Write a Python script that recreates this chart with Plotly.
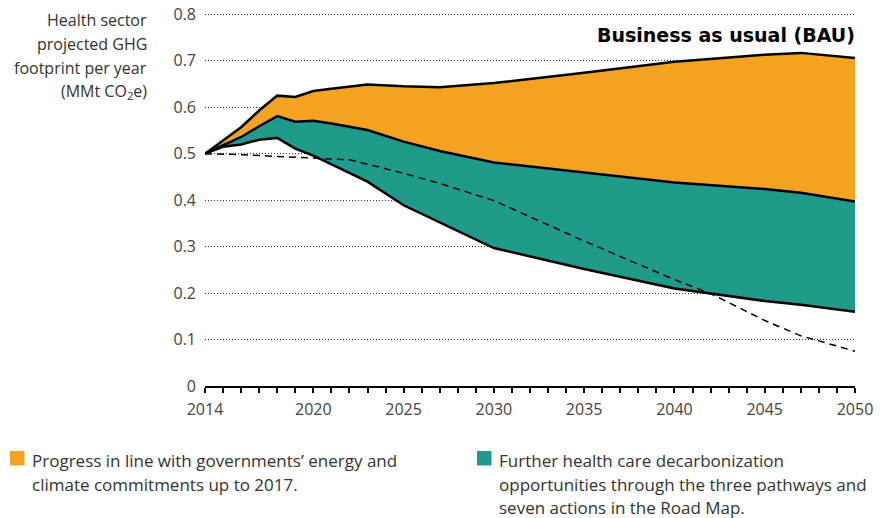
import plotly.graph_objects as go

years = [2014, 2015, 2016, 2017, 2018, 2019, 2020, 2021, 2022, 2023, 2025, 2027, 2030, 2035, 2040, 2045, 2047, 2050]
bau = [0.500, 0.529, 0.557, 0.593, 0.625, 0.622, 0.635, 0.640, 0.645, 0.649, 0.645, 0.643, 0.652, 0.674, 0.698, 0.713, 0.717, 0.706]
commitments = [0.500, 0.518, 0.536, 0.559, 0.581, 0.569, 0.571, 0.565, 0.558, 0.551, 0.526, 0.506, 0.481, 0.460, 0.438, 0.424, 0.416, 0.397]
roadmap = [0.500, 0.515, 0.520, 0.530, 0.534, 0.511, 0.496, 0.477, 0.459, 0.440, 0.389, 0.352, 0.297, 0.252, 0.210, 0.183, 0.175, 0.160]

target_years = [2014, 2016, 2018, 2020, 2022, 2025, 2027, 2030, 2035, 2040, 2042, 2045, 2047, 2050]
target = [0.500, 0.498, 0.494, 0.490, 0.487, 0.458, 0.436, 0.399, 0.312, 0.229, 0.199, 0.141, 0.108, 0.075]

y_ticks = [0, 0.1, 0.2, 0.3, 0.4, 0.5, 0.6, 0.7, 0.8]
y_labels = ["0", "0.1", "0.2", "0.3", "0.4", "0.5", "0.6", "0.7", "0.8"]
x_ticks = [2014, 2020, 2025, 2030, 2035, 2040, 2045, 2050]

y_title_lines = ["Health sector", "projected GHG", "footprint per year", "(MMt CO<sub>2</sub>e)"]
legend_lines = [
    ["Progress in line with governments’ energy and", "climate commitments up to 2017."],
    ["Further health care decarbonization", "opportunities through the three pathways and",
     "seven actions in the Road Map."],
]

ORANGE = "#F4A321"
TEAL = "#1F9B8B"
FONT = "Open Sans"

# page is drawn with an 8px body offset; figure is sized to fit the window
OFF = 8
W, H = 881 - OFF, 518 - OFF
L, R, T, B = 197, 26, 4, 132
PW = W - L - R
PH = H - T - B


def px_x(px):
    return (px - OFF - L) / PW


def px_y(py):
    return (H - B - (py - OFF)) / PH


fig = go.Figure()
fig.add_trace(go.Scatter(x=years, y=roadmap, mode="lines",
                         line=dict(color="black", width=2.5), showlegend=False))
fig.add_trace(go.Scatter(x=years, y=commitments, mode="lines", fill="tonexty",
                         fillcolor=TEAL, line=dict(color="black", width=2.5), showlegend=False))
fig.add_trace(go.Scatter(x=years, y=bau, mode="lines", fill="tonexty",
                         fillcolor=ORANGE, line=dict(color="black", width=2.5), showlegend=False))
fig.add_trace(go.Scatter(x=target_years, y=target, mode="lines",
                         line=dict(color="black", width=1.5, dash="7px,5px"), showlegend=False))

fig.update_layout(
    width=W, height=H,
    margin=dict(l=L, r=R, t=T, b=B, pad=0),
    plot_bgcolor="white", paper_bgcolor="white",
    font=dict(family=FONT, size=16, color="#333333"),
    xaxis=dict(range=[2014, 2050], tickvals=x_ticks, ticks="outside", ticklen=5, tickwidth=1.5,
               tickcolor="black", showgrid=False, zeroline=False, automargin=False,
               showline=True, linecolor="black", linewidth=2, ticklabelstandoff=3,
               tickfont=dict(size=16, color="#444444"),
               minor=dict(dtick=1, tick0=2014, ticks="outside", ticklen=5, tickwidth=1.5,
                          tickcolor="black", showgrid=False)),
    yaxis=dict(range=[0, 0.805], tickvals=y_ticks, ticktext=y_labels, showline=False,
               zeroline=False, showgrid=True, gridcolor="#333333", griddash="1px,2px", gridwidth=1,
               automargin=False, ticks="", ticklabeloverflow="allow",
               tickfont=dict(size=16, color="#444444"), ticklabelstandoff=8),
)

# y-axis title, one line at a time
for i, line in enumerate(y_title_lines):
    fig.add_annotation(xref="paper", yref="paper", x=px_x(149), y=px_y(20.5 + 23.7 * i),
                       xanchor="right", yanchor="middle", align="right", showarrow=False,
                       text=line, font=dict(size=16, color="#333333", family=FONT))

fig.add_annotation(xref="paper", yref="paper", x=px_x(857), y=px_y(35), xanchor="right", yanchor="middle",
                   showarrow=False, text="<b>Business as usual (BAU)</b>",
                   font=dict(size=19, color="black", family="DejaVu Sans"))

# legend squares and labels
legend_colors = [ORANGE, TEAL]
legend_x_px = [10, 477]
for lx, col, lines in zip(legend_x_px, legend_colors, legend_lines):
    fig.add_shape(type="rect", xref="paper", yref="paper", x0=px_x(lx), x1=px_x(lx + 14.5),
                  y0=px_y(465.5), y1=px_y(451),
                  fillcolor=col, line=dict(width=0))
    for i, line in enumerate(lines):
        fig.add_annotation(xref="paper", yref="paper", x=px_x(lx + 20), y=px_y(460.5 + 23.5 * i),
                           xanchor="left", yanchor="middle", align="left", showarrow=False,
                           text=line, font=dict(size=17, color="#333333", family=FONT))

fig.write_html("out.html")
